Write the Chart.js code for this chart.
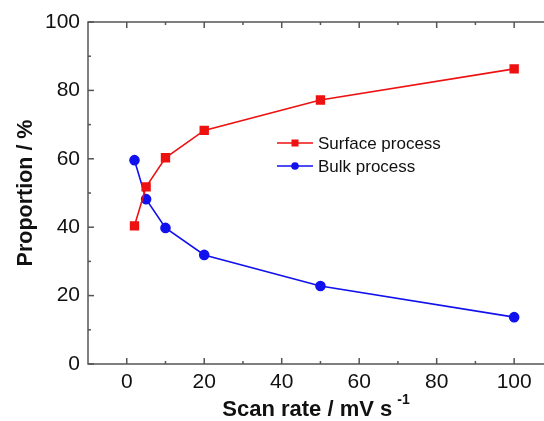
<!DOCTYPE html>
<html>
<head>
<meta charset="utf-8">
<script src="https://cdn.jsdelivr.net/npm/chart.js@4"></script>
<style>
  html, body { margin: 0; padding: 0; background: #fff; overflow: hidden; }
  #wrap { width: 560px; height: 421px; }
</style>
</head>
<body>
<div id="wrap"><canvas id="chart" width="560" height="421"></canvas></div>
<script>
// data
const scanRates = [2, 5, 10, 20, 50, 100];
const surfaceProcess = [40.4, 51.8, 60.3, 68.3, 77.2, 86.3];
const bulkProcess = [59.6, 48.2, 39.8, 31.9, 22.8, 13.7];
const xTicks = [0, 20, 40, 60, 80, 100];
const yTicks = [0, 20, 40, 60, 80, 100];
const xMinor = [10, 30, 50, 70, 90];
const yMinor = [10, 30, 50, 70, 90];

const FONT = "'Liberation Sans', Arial, sans-serif";
const AXIS = "#555";

function toPoints(xs, ys) {
    return xs.map((x, i) => ({ x: x, y: ys[i] }));
}

// box, inward ticks, titles and the legend inside the plot
const framePlugin = {
    id: "frame",
    afterDraw(chart) {
        const ctx = chart.ctx;
        const a = chart.chartArea;
        const xs = chart.scales.x;
        const ys = chart.scales.y;
        ctx.save();
        ctx.strokeStyle = AXIS;
        ctx.lineWidth = 1.5;
        ctx.strokeRect(a.left, a.top, a.right - a.left, a.bottom - a.top);

        function tick(x1, y1, x2, y2) {
            ctx.beginPath();
            ctx.moveTo(x1, y1);
            ctx.lineTo(x2, y2);
            ctx.stroke();
        }
        xTicks.forEach(v => {
            const px = xs.getPixelForValue(v);
            tick(px, a.bottom, px, a.bottom - 6);
            tick(px, a.top, px, a.top + 6);
        });
        xMinor.forEach(v => {
            const px = xs.getPixelForValue(v);
            tick(px, a.bottom, px, a.bottom - 3);
            tick(px, a.top, px, a.top + 3);
        });
        yTicks.forEach(v => {
            const py = ys.getPixelForValue(v);
            tick(a.left, py, a.left + 6, py);
            tick(a.right, py, a.right - 6, py);
        });
        yMinor.forEach(v => {
            const py = ys.getPixelForValue(v);
            tick(a.left, py, a.left + 3, py);
            tick(a.right, py, a.right - 3, py);
        });

        // axis titles
        ctx.fillStyle = "#111";
        ctx.font = "bold 22px " + FONT;
        ctx.textBaseline = "alphabetic";
        const main = "Scan rate / mV s";
        const sup = "-1";
        const mainW = ctx.measureText(main).width;
        ctx.font = "bold 14px " + FONT;
        const supW = ctx.measureText(sup).width;
        const cx = 316;
        let sx = cx - (mainW + 5 + supW) / 2;
        ctx.font = "bold 22px " + FONT;
        ctx.textAlign = "left";
        ctx.fillText(main, sx, 416);
        ctx.font = "bold 14px " + FONT;
        ctx.fillText(sup, sx + mainW + 5, 404);

        ctx.save();
        ctx.translate(32, (a.top + a.bottom) / 2);
        ctx.rotate(-Math.PI / 2);
        ctx.font = "bold 21.5px " + FONT;
        ctx.textAlign = "center";
        ctx.fillText("Proportion / %", 0, 0);
        ctx.restore();

        // legend
        const rows = [
            { y: 143, ds: chart.data.datasets[0] },
            { y: 166, ds: chart.data.datasets[1] }
        ];
        rows.forEach(r => {
            ctx.strokeStyle = r.ds.borderColor;
            ctx.lineWidth = 1.5;
            tick(277, r.y, 313, r.y);
            ctx.fillStyle = r.ds.borderColor;
            if (r.ds.pointStyle === "rect") {
                ctx.fillRect(295 - 3.5, r.y - 3.5, 7, 7);
            } else {
                ctx.beginPath();
                ctx.arc(295, r.y, 3.8, 0, Math.PI * 2);
                ctx.fill();
            }
            ctx.fillStyle = "#111";
            ctx.font = "17px " + FONT;
            ctx.textAlign = "left";
            ctx.textBaseline = "middle";
            ctx.fillText(r.ds.label, 318, r.y + 1);
        });
        ctx.restore();
    }
};

new Chart(document.getElementById("chart"), {
    type: "scatter",
    data: {
        datasets: [
            {
                label: "Surface process",
                data: toPoints(scanRates, surfaceProcess),
                showLine: true,
                borderColor: "#ee1111",
                backgroundColor: "#ee1111",
                borderWidth: 1.6,
                pointStyle: "rect",
                pointRadius: 5.5,
                pointHoverRadius: 5.5
            },
            {
                label: "Bulk process",
                data: toPoints(scanRates, bulkProcess),
                showLine: true,
                borderColor: "#1111ee",
                backgroundColor: "#1111ee",
                borderWidth: 1.6,
                pointStyle: "circle",
                pointRadius: 4.5,
                pointHoverRadius: 4.5
            }
        ]
    },
    options: {
        responsive: false,
        animation: false,
        layout: { padding: { top: 22, right: 6, left: 0, bottom: 0 } },
        plugins: {
            legend: { display: false },
            tooltip: { enabled: false }
        },
        scales: {
            x: {
                type: "linear",
                min: -10,
                max: 110,
                grid: { display: false, drawTicks: false },
                border: { display: false },
                afterBuildTicks: s => { s.ticks = xTicks.map(v => ({ value: v })); },
                afterFit: s => { s.height = 57; },
                ticks: {
                    color: "#111",
                    padding: 6,
                    maxRotation: 0,
                    font: { family: FONT, size: 21 }
                }
            },
            y: {
                type: "linear",
                min: 0,
                max: 100,
                grid: { display: false, drawTicks: false },
                border: { display: false },
                afterBuildTicks: s => { s.ticks = yTicks.map(v => ({ value: v })); },
                afterFit: s => { s.width = 88; },
                ticks: {
                    color: "#111",
                    padding: 8,
                    font: { family: FONT, size: 21 }
                }
            }
        }
    },
    plugins: [framePlugin]
});
</script>
</body>
</html>
